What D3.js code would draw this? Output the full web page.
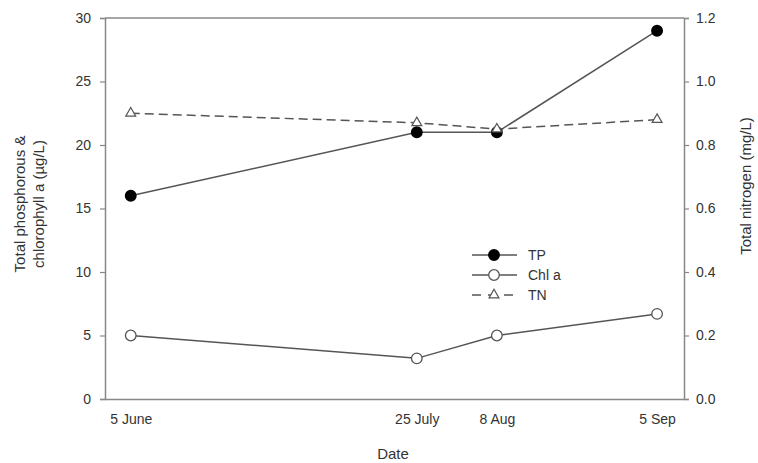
<!DOCTYPE html>
<html>
<head>
<meta charset="utf-8">
<script src="https://cdn.jsdelivr.net/npm/d3@7"></script>
<style>
  body { margin: 0; background: #fff; }
  text { font-family: "Liberation Sans", Arial, sans-serif; fill: #333; }
</style>
</head>
<body>
<svg id="chart" width="758" height="463"></svg>
<script>
// Data
const dates = ["2012-06-05", "2012-07-25", "2012-08-08", "2012-09-05"];
const dateLabels = ["5 June", "25 July", "8 Aug", "5 Sep"];
const tpValues = [16, 21, 21, 29];
const chlValues = [5, 3.2, 5, 6.7];
const tnValues = [0.90, 0.87, 0.85, 0.88];
const leftTicks = [0, 5, 10, 15, 20, 25, 30];
const rightTicks = [0, 0.2, 0.4, 0.6, 0.8, 1.0, 1.2];

const parse = d3.timeParse("%Y-%m-%d");
const dateObjs = dates.map(parse);

const margin = { left: 105, right: 74, top: 18, bottom: 64 };
const width = 758, height = 463;

const svg = d3.select("#chart");

const x = d3.scaleTime()
    .domain([new Date(2012, 4, 31, 12), new Date(2012, 8, 9, 17)])
    .range([margin.left, width - margin.right]);

const yLeft = d3.scaleLinear().domain([0, 30]).range([height - margin.bottom, margin.top]);
const yRight = d3.scaleLinear().domain([0, 1.2]).range([height - margin.bottom, margin.top]);

const axisColor = "#888";
const lineColor = "#555";

// Frame: top line
svg.append("line")
    .attr("x1", margin.left).attr("x2", width - margin.right)
    .attr("y1", margin.top).attr("y2", margin.top)
    .attr("stroke", axisColor).attr("stroke-width", 1.5);

// Left axis
const gL = svg.append("g")
    .attr("transform", `translate(${margin.left},0)`)
    .call(d3.axisLeft(yLeft).tickValues(leftTicks).tickSize(5).tickPadding(9));

// Right axis
const gR = svg.append("g")
    .attr("transform", `translate(${width - margin.right},0)`)
    .call(d3.axisRight(yRight).tickValues(rightTicks).tickSize(5).tickPadding(7)
        .tickFormat(d3.format(".1f")));

// Bottom axis (no tick marks)
const gB = svg.append("g")
    .attr("transform", `translate(0,${height - margin.bottom})`)
    .call(d3.axisBottom(x).tickValues(dateObjs).tickSize(0).tickPadding(15)
        .tickFormat((d, i) => dateLabels[i]));

[gL, gR, gB].forEach(g => {
    g.select(".domain").attr("stroke", axisColor).attr("stroke-width", 1.5);
    g.selectAll(".tick line").attr("stroke", axisColor).attr("stroke-width", 1.2);
    g.selectAll(".tick text")
        .style("font-family", "'Liberation Sans', Arial, sans-serif")
        .style("font-size", "14px")
        .attr("fill", "#333");
});

// Axis titles
svg.append("text")
    .attr("transform", "translate(25,204) rotate(-90)")
    .attr("text-anchor", "middle")
    .style("font-size", "15px")
    .text("Total phosphorous &");
svg.append("text")
    .attr("transform", "translate(44,204) rotate(-90)")
    .attr("text-anchor", "middle")
    .style("font-size", "15px")
    .text("chlorophyll a (µg/L)");
svg.append("text")
    .attr("transform", "translate(751,186) rotate(-90)")
    .attr("text-anchor", "middle")
    .style("font-size", "15px")
    .text("Total nitrogen (mg/L)");
svg.append("text")
    .attr("x", 393).attr("y", 459)
    .attr("text-anchor", "middle")
    .style("font-size", "15px")
    .text("Date");

// Series
const series = [
    { name: "TP", values: tpValues, scale: yLeft, dash: null, marker: "filled" },
    { name: "Chl a", values: chlValues, scale: yLeft, dash: null, marker: "open" },
    { name: "TN", values: tnValues, scale: yRight, dash: "9,5", marker: "triangle" }
];

const tri = d3.symbol().type(d3.symbolTriangle).size(42);

function drawMarker(g, s, cx, cy) {
    if (s.marker === "triangle") {
        g.append("path")
            .attr("d", tri)
            .attr("transform", `translate(${cx},${cy})`)
            .attr("fill", "#fff").attr("stroke", lineColor).attr("stroke-width", 1.2);
    } else {
        g.append("circle")
            .attr("cx", cx).attr("cy", cy).attr("r", 5.3)
            .attr("fill", s.marker === "filled" ? "#000" : "#fff")
            .attr("stroke", s.marker === "filled" ? "#000" : lineColor)
            .attr("stroke-width", 1.3);
    }
}

series.forEach(s => {
    const line = d3.line()
        .x((d, i) => x(dateObjs[i]))
        .y(d => s.scale(d));
    svg.append("path")
        .datum(s.values)
        .attr("d", line)
        .attr("fill", "none")
        .attr("stroke", lineColor)
        .attr("stroke-width", 1.5)
        .attr("stroke-dasharray", s.dash);
    const g = svg.append("g");
    s.values.forEach((v, i) => drawMarker(g, s, x(dateObjs[i]), s.scale(v)));
});

// Legend
const legend = svg.append("g");
series.forEach((s, i) => {
    const ly = 255 + i * 20;
    legend.append("line")
        .attr("x1", 472).attr("x2", 517)
        .attr("y1", ly).attr("y2", ly)
        .attr("stroke", lineColor).attr("stroke-width", 1.5)
        .attr("stroke-dasharray", s.dash ? "9,7" : null);
    drawMarker(legend, s, 494, ly);
    legend.append("text")
        .attr("x", 528).attr("y", ly + 5)
        .style("font-size", "14px")
        .text(s.name);
});
</script>
</body>
</html>
